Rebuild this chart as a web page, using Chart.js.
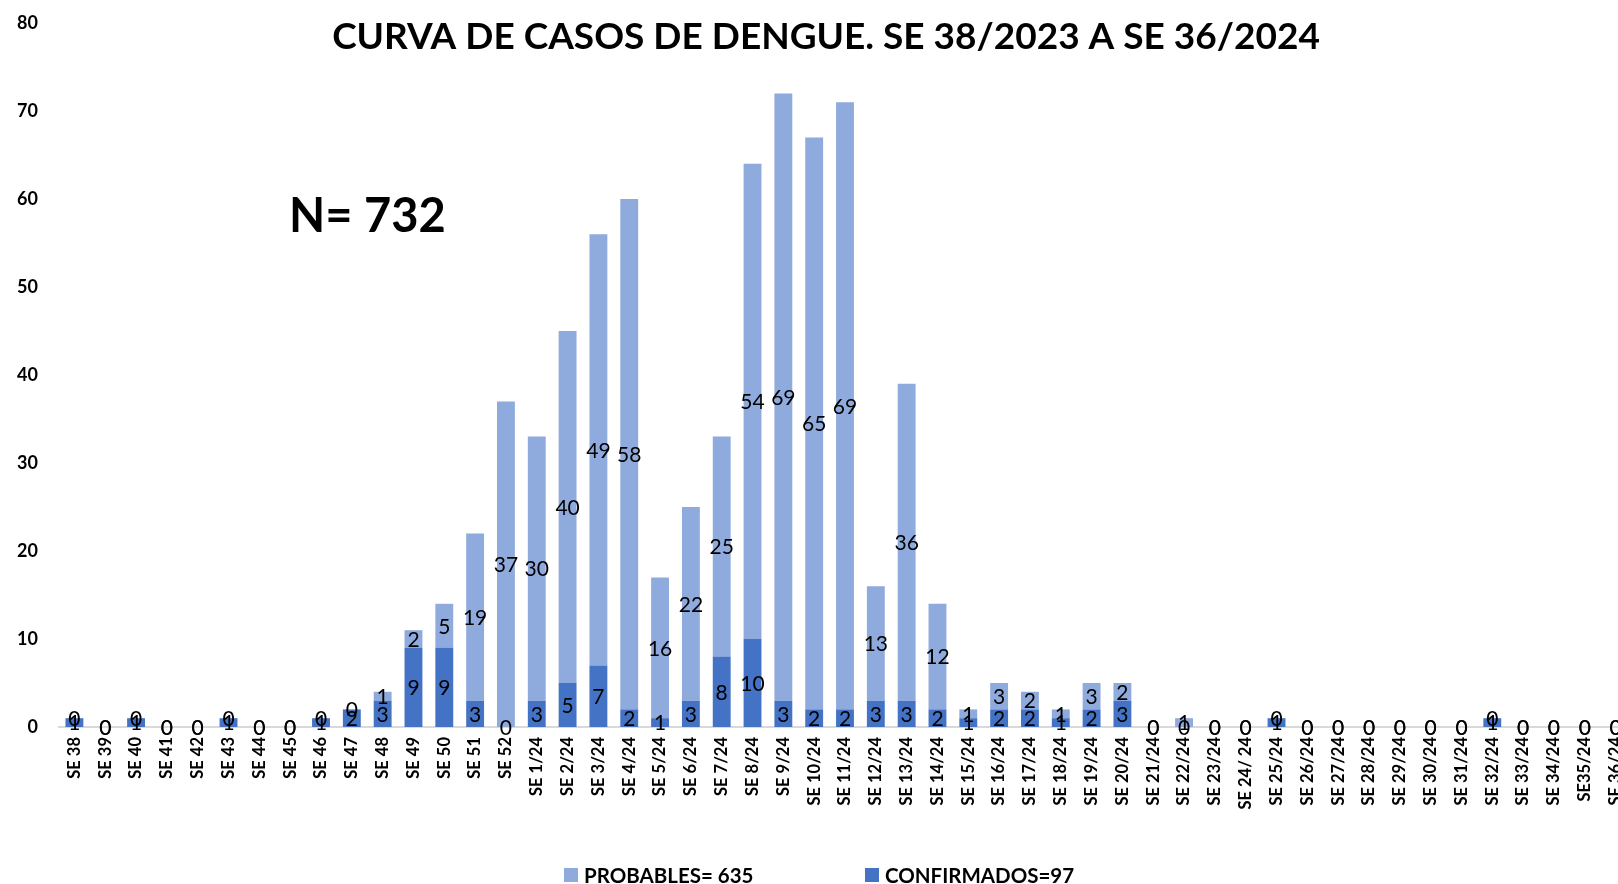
<!DOCTYPE html>
<html>
<head>
<meta charset="utf-8">
<script src="https://cdn.jsdelivr.net/npm/chart.js@4.4.1/dist/chart.umd.min.js"></script>
<style>
  html, body { margin: 0; padding: 0; background: #fff; overflow: hidden; }
  #wrap { width: 1650px; height: 884px; }
</style>
</head>
<body>
<div id="wrap"><canvas id="dengueChart" width="1650" height="884"></canvas></div>
<script>
// semanas epidemiologicas
const semanas = [
  'SE 38', 'SE 39', 'SE 40', 'SE 41', 'SE 42', 'SE 43', 'SE 44', 'SE 45', 'SE 46', 'SE 47',
  'SE 48', 'SE 49', 'SE 50', 'SE 51', 'SE 52',
  'SE 1/24', 'SE 2/24', 'SE 3/24', 'SE 4/24', 'SE 5/24', 'SE 6/24', 'SE 7/24', 'SE 8/24',
  'SE 9/24', 'SE 10/24', 'SE 11/24', 'SE 12/24', 'SE 13/24', 'SE 14/24', 'SE 15/24', 'SE 16/24',
  'SE 17/24', 'SE 18/24', 'SE 19/24', 'SE 20/24', 'SE 21/24', 'SE 22/24', 'SE 23/24', 'SE 24/ 24',
  'SE 25/24', 'SE 26/24', 'SE 27/24', 'SE 28/24', 'SE 29/24', 'SE 30/24', 'SE 31/24', 'SE 32/24',
  'SE 33/24', 'SE 34/24', 'SE35/24', 'SE 36/24'
];

const confirmados = [
  1, 0, 1, 0, 0, 1, 0, 0, 1, 2, 3, 9, 9, 3, 0,
  3, 5, 7, 2, 1, 3, 8, 10, 3, 2, 2, 3, 3, 2, 1, 2,
  2, 1, 2, 3, 0, 0, 0, 0, 1, 0, 0, 0, 0, 0, 0, 1,
  0, 0, 0, 0
];

const probables = [
  0, 0, 0, 0, 0, 0, 0, 0, 0, 0, 1, 2, 5, 19, 37,
  30, 40, 49, 58, 16, 22, 25, 54, 69, 65, 69, 13, 36, 12, 1, 3,
  2, 1, 3, 2, 0, 1, 0, 0, 0, 0, 0, 0, 0, 0, 0, 0,
  0, 0, 0, 0
];

const yTicks = [0, 10, 20, 30, 40, 50, 60, 70, 80];

const titulo = 'CURVA DE CASOS DE DENGUE. SE 38/2023 A SE 36/2024';
const totalTexto = 'N= 732';
const leyenda = ['PROBABLES= 635', 'CONFIRMADOS=97'];

const colorProbables = '#8FAADC';
const colorConfirmados = '#4472C4';

// etiquetas de datos centradas en cada segmento
const etiquetasPlugin = {
  id: 'etiquetas',
  afterDatasetsDraw(chart) {
    const ctx = chart.ctx;
    ctx.save();
    ctx.font = '21px Lato';
    ctx.fillStyle = '#000';
    ctx.textAlign = 'center';
    ctx.textBaseline = 'middle';
    chart.data.datasets.forEach((ds, i) => {
      chart.getDatasetMeta(i).data.forEach((bar, j) => {
        const y = (bar.y + bar.base) / 2;
        ctx.fillText(String(ds.data[j]), bar.x, y + 1);
      });
    });
    ctx.restore();
  },
  afterDraw(chart) {
    const ctx = chart.ctx;
    ctx.save();
    ctx.fillStyle = '#000';
    ctx.textBaseline = 'middle';

    // titulo
    ctx.font = 'bold 37px Lato';
    ctx.textAlign = 'center';
    ctx.fillText(titulo, 826, 37);

    // total
    ctx.font = 'bold 47px Lato';
    ctx.textAlign = 'left';
    ctx.fillText(totalTexto, 289, 217);

    // leyenda
    ctx.font = 'bold 20.5px Lato';
    const items = [
      { text: leyenda[0], color: chart.data.datasets[1].backgroundColor, x: 564 },
      { text: leyenda[1], color: chart.data.datasets[0].backgroundColor, x: 865 }
    ];
    items.forEach(it => {
      ctx.fillStyle = it.color;
      ctx.fillRect(it.x, 868, 14, 14);
      ctx.fillStyle = '#000';
      ctx.fillText(it.text, it.x + 20, 876);
    });
    ctx.restore();
  }
};

const ctx = document.getElementById('dengueChart').getContext('2d');

new Chart(ctx, {
  type: 'bar',
  data: {
    labels: semanas,
    datasets: [
      {
        label: leyenda[1],
        data: confirmados,
        backgroundColor: colorConfirmados,
        barPercentage: 0.58,
        categoryPercentage: 1
      },
      {
        label: leyenda[0],
        data: probables,
        backgroundColor: colorProbables,
        barPercentage: 0.58,
        categoryPercentage: 1
      }
    ]
  },
  options: {
    responsive: false,
    animation: false,
    layout: { padding: { top: 23, right: 19, left: 0, bottom: 0 } },
    scales: {
      x: {
        stacked: true,
        grid: { display: false, drawTicks: false },
        border: { display: true, color: '#d9d9d9', width: 2 },
        ticks: {
          color: '#000',
          font: { family: 'Lato', weight: 'bold', size: 16.5 },
          minRotation: 90,
          maxRotation: 90,
          autoSkip: false,
          padding: 10
        },
        afterFit(scale) { scale.height = 157; }
      },
      y: {
        stacked: true,
        min: 0,
        max: 80,
        grid: { display: false, drawTicks: false },
        border: { display: false },
        afterBuildTicks(scale) { scale.ticks = yTicks.map(v => ({ value: v })); },
        ticks: {
          color: '#000',
          font: { family: 'Lato', weight: 'bold', size: 18 },
          padding: 21
        },
        afterFit(scale) {
          scale.width = 59;
          scale.paddingTop = 0;
          scale.paddingBottom = 0;
        }
      }
    },
    plugins: {
      legend: { display: false },
      title: { display: false },
      tooltip: { enabled: false }
    }
  },
  plugins: [etiquetasPlugin]
});
</script>
</body>
</html>
